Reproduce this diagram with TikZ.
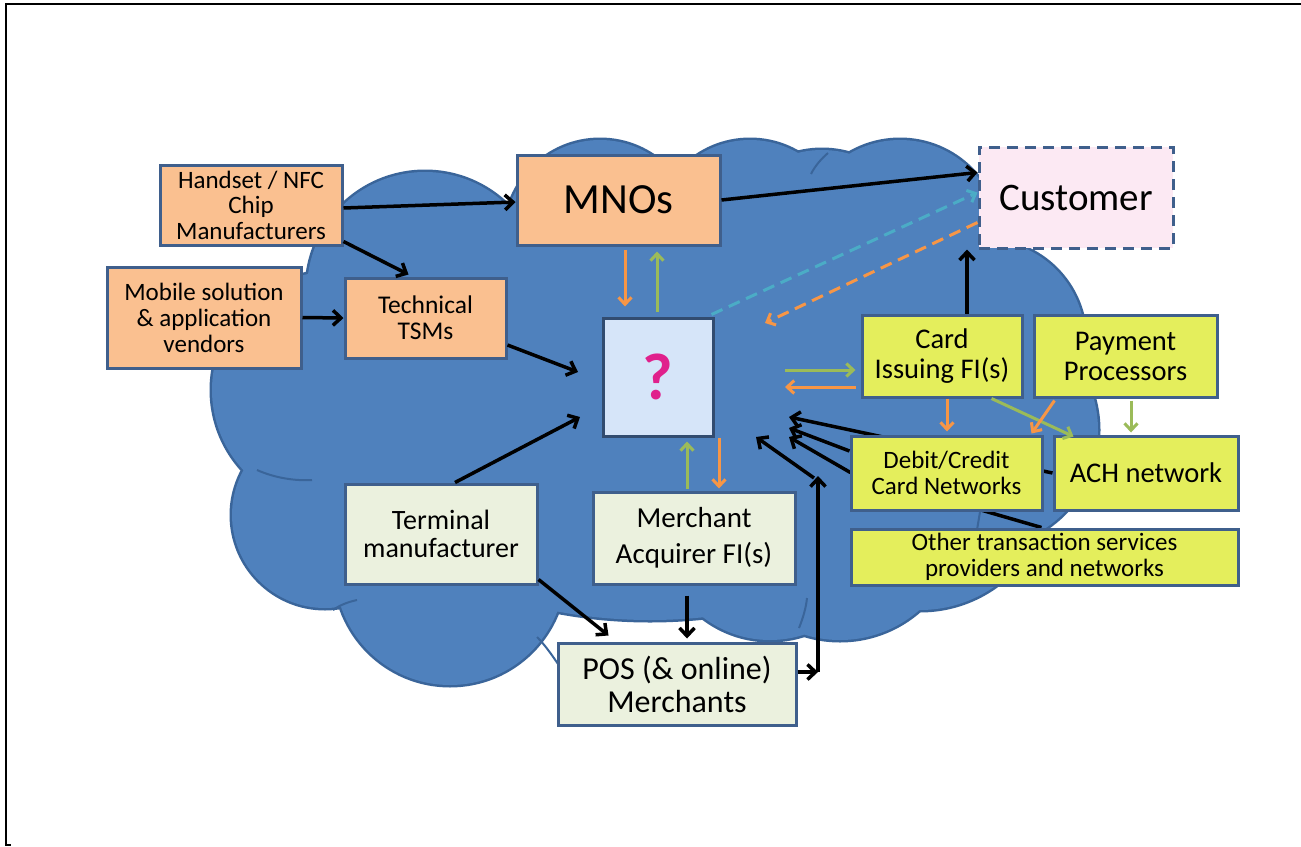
\documentclass[tikz,border=0pt]{standalone}
\usepackage{fontspec}
\setmainfont{Carlito}
\usetikzlibrary{arrows.meta,calc}
\definecolor{cloudfill}{HTML}{4F81BD}
\definecolor{cloudline}{HTML}{3A659A}
\definecolor{boxline}{HTML}{3F5F8C}
\definecolor{orfill}{HTML}{FAC090}
\definecolor{yefill}{HTML}{E4EE5C}
\definecolor{grfill}{HTML}{EBF1DE}
\definecolor{qfill}{HTML}{D6E5F9}
\definecolor{custfill}{HTML}{FCE9F3}
\definecolor{orarr}{HTML}{F79646}
\definecolor{grarr}{HTML}{9BBB59}
\definecolor{cyarr}{HTML}{4BACC6}
\definecolor{qmark}{HTML}{E0208C}
\pgfdeclarelayer{cloudlayer}
\pgfdeclarelayer{behind}
\pgfsetlayers{cloudlayer,behind,main}
\tikzset{
  box/.style={draw=boxline, line width=3pt, align=center, inner sep=0pt, text=black},
  orbox/.style={box, fill=orfill},
  yebox/.style={box, fill=yefill},
  grbox/.style={box, fill=grfill},
  blk/.style={draw=black, line width=3.5pt, -{Straight Barb[length=8pt,width=15pt]}},
  ora/.style={draw=orarr, line width=3pt, -{Straight Barb[length=7pt,width=13pt]}},
  gra/.style={draw=grarr, line width=3pt, -{Straight Barb[length=7pt,width=13pt]}},
  fs/.style 2 args={font=\fontsize{#1}{#2}\selectfont},
  inarc/.style={draw=cloudline, line width=2pt},
}
\begin{document}
\begin{tikzpicture}[x=1pt,y=-1pt]
\useasboundingbox (0,0) rectangle (1301,846);

% cloud
\begin{pgfonlayer}{cloudlayer}
\fill[white] (0,0) rectangle (1301,846);
\draw[line width=2pt] (1301,4) -- (6,4) -- (6,845) -- (11,845);
\def\lobes{(425,290) circle[radius=118] (600,235) circle[radius=95] (750,235) circle[radius=95]
 (822,250) circle[radius=100]
 (900,240) circle[radius=100] (985,340) circle[radius=100] (980,430) circle[radius=118]
 (920,480) circle[radius=130] (840,520) circle[radius=120] (770,530) circle[radius=110]
 (330,390) circle[radius=118] (325,515) circle[radius=93] (450,570) circle[radius=115]
 (650,420) ellipse[x radius=320, y radius=200]}
\draw[cloudline, line width=5pt] \lobes;
\fill[cloudfill] \lobes;
% inner arcs of the cloud
\draw[inarc] (257,470) .. controls (275,478) and (295,481) .. (312,480);
\draw[inarc] (333,610) .. controls (340,605) and (348,602) .. (357,600);
\draw[inarc] (537,637) .. controls (545,645) and (552,655) .. (560,667);
\draw[inarc] (807,598) .. controls (806,608) and (803,618) .. (799,628);
\draw[inarc] (828,153) .. controls (821,159) and (815,166) .. (811,174);
\draw[inarc] (980,512) .. controls (979,518) and (978,524) .. (977,530);
\end{pgfonlayer}

% boxes
\node[orbox, minimum width=182pt, minimum height=80pt, fs={25}{25.5}] (hand) at (251,205) {Handset / NFC\\Chip\\Manufacturers};
\node[orbox, minimum width=194pt, minimum height=101pt, fs={25}{26}] (mob) at (204,317.5) {Mobile solution\\\& application\\vendors};
\node[orbox, minimum width=161pt, minimum height=80pt, fs={25.5}{26}] (tech) at (425.5,318) {Technical\\TSMs};
\node[orbox, minimum width=203pt, minimum height=90pt, fs={43}{48}] (mno) at (618.5,200) {MNOs};
\node[draw=boxline, line width=3pt, dash pattern=on 11pt off 7pt, fill=custfill, minimum width=194pt, minimum height=101pt, fs={39}{44}] (cust) at (1076,197.5) {Customer};
\node[draw=boxline!80!black, line width=3pt, fill=qfill, minimum width=110pt, minimum height=118pt, text=qmark, font=\bfseries\fontsize{66}{70}\selectfont] (q) at (658,377) {?};
\node[yebox, minimum width=160pt, minimum height=82pt, fs={28.5}{30}] (card) at (942,356) {Card\\Issuing FI(s)};
\node[yebox, minimum width=183pt, minimum height=82pt, fs={28.5}{30}] (pay) at (1125.5,356) {Payment\\Processors};
\node[yebox, minimum width=191pt, minimum height=74pt, fs={25}{25.5}] (debit) at (946.5,473) {Debit/Credit\\Card Networks};
\node[yebox, minimum width=184pt, minimum height=74pt, fs={28.5}{30}] (ach) at (1146,473) {ACH network};
\node[yebox, minimum width=387pt, minimum height=56pt, fs={25}{26}] (other) at (1044.5,557) {Other transaction services\\providers and networks};
\node[grbox, minimum width=192pt, minimum height=100pt, fs={28}{28.5}] (term) at (441,534) {Terminal\\manufacturer};
\node[grbox, minimum width=202pt, minimum height=92pt, fs={29}{36}] (merch) at (694,538) {Merchant\\Acquirer FI(s)};
\node[grbox, minimum width=238pt, minimum height=82pt, fs={32}{33}] (pos) at (677,684) {POS (\& online)\\Merchants};

% target coordinates near the central box
\coordinate (qL) at (578,372);
\coordinate (qBL) at (580,417);
\coordinate (t1) at (789,417);
\coordinate (t2) at (789,428);
\coordinate (t3) at (789,437);
\coordinate (t4) at (756,437);
\coordinate (posc) at (818,672);
\coordinate (post) at (818,476);
\coordinate (obend) at ($(debit.west)+(0,-1)$);

% connectors hidden behind boxes
\begin{pgfonlayer}{behind}
\draw[blk] (ach.west) -- (t1);
\draw[blk] ($(other.north west)+(192,0)$) -- (obend) -- (t3);
\end{pgfonlayer}

% black connectors
\draw[blk] ($(hand.east)+(0,3)$) -- ($(mno.west)+(0,2)$);
\draw[blk] ($(hand.south east)+(0,-5)$) -- ($(tech.north)+(-17,-2)$);
\draw[blk] (mob.east) -- (tech.west);
\draw[blk] ($(tech.east)+(0,27)$) -- (qL);
\draw[blk] (mno.east) -- ($(cust.west)+(0,-25)$);
\draw[blk] ($(term.north)+(14,0)$) -- (qBL);
\draw[blk] ($(term.south east)+(0,-6)$) -- ($(pos.north west)+(52,-6)$);
\draw[blk] ($(merch.south)+(-7,10)$) -- ($(pos.north)+(10,-3)$);
\draw[blk] ($(card.north)+(25,0)$) -- ($(cust.south)+(-109,0)$);
\draw[blk] ($(debit.west)+(0,-22)$) -- (t2);
\draw[blk] ($(pos.east)+(0,-12)$) -- (posc);
\draw[blk] (posc) -- (post);
\draw[blk] ($(post)+(-4,2)$) -- (t4);

% coloured connectors
\draw[ora] ($(mno.south)+(6.5,3)$) -- ($(q.north)+(-33,-10)$);
\draw[gra] ($(q.north)+(-1,-5)$) -- ($(mno.south)+(38.5,5)$);
\draw[gra] ($(merch.north)+(-7,-2)$) -- ($(q.south)+(29,4)$);
\draw[ora] ($(q.south)+(61,0)$) -- ($(merch.north)+(25,-2)$);
\draw[gra] (785,370) -- ($(card.west)+(-5,14)$);
\draw[ora] ($(card.west)+(-5,31)$) -- (785,387);
\draw[ora] ($(card.south)+(5,0)$) -- ($(debit.north)+(0.5,-3)$);
\draw[gra] ($(card.south east)+(-32,0)$) -- ($(ach.north west)+(21,2)$);
\draw[ora] ($(pay.south west)+(22,2)$) -- ($(debit.north east)+(-12,-1)$);
\draw[gra] ($(pay.south)+(5.5,2)$) -- ($(ach.north)+(-15,-2)$);
\draw[cyarr, line width=3pt, dash pattern=on 12pt off 7pt, -{Straight Barb[length=7pt,width=13pt]}] ($(q.north east)+(-3,-2)$) -- ($(cust.west)+(0,-5)$);
\draw[orarr, line width=3pt, dash pattern=on 12pt off 7pt, -{Straight Barb[length=7pt,width=13pt]}] ($(cust.west)+(0,25)$) -- (765,323);
\end{tikzpicture}
\end{document}
